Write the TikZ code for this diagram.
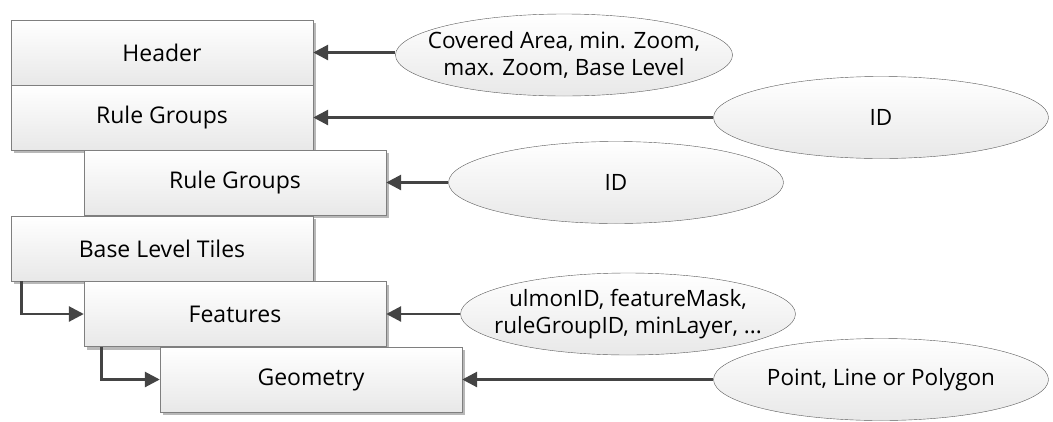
\documentclass[tikz,border=0pt]{standalone}
\usepackage{fontspec}
\setmainfont{Open Sans}
\usetikzlibrary{arrows.meta,positioning,shadows,shapes.geometric}
\definecolor{linkgray}{HTML}{444444}
\definecolor{boxedge}{HTML}{7F7F7F}
\definecolor{boxfoot}{HTML}{E8E8E8}
\definecolor{ovaledge}{HTML}{5A5A5A}

\begin{document}
\begin{tikzpicture}[x=1pt,y=-1pt,
  block/.style={draw=boxedge, top color=white, bottom color=boxfoot,
    minimum width=302pt, minimum height=65pt, inner sep=0pt,
    drop shadow={shadow xshift=3pt,shadow yshift=-3pt,fill=black!35,opacity=0.8},
    font=\fontsize{23}{28}\selectfont},
  attr/.style={ellipse, draw=ovaledge, top color=white, bottom color=boxfoot,
    minimum width=335pt, minimum height=82pt, inner xsep=-17pt, inner ysep=0pt,
    align=center, font=\fontsize{22.5}{27}\selectfont},
  link/.style={linkgray, line width=2.8pt, -{Triangle[length=15pt,width=15pt]}}]
  \useasboundingbox (0,0) rectangle (1053,421);

  % record blocks
  \node[block] (hdr)  at (162,52.5)  {Header};
  \node[block] (rg)   at (162,117.5) {Rule Groups};
  \node[block] (rgs)  at (235,182.5) {Rule Groups};
  \node[block] (tile) at (162,248.5) {Base Level Tiles};
  \node[block] (feat) at (235,314)   {Features};
  \node[block] (geom) at (311,379.5) {Geometry};

  % contents
  \node[attr] (hdrinfo)  at (564,55)    {Covered Area, min. Zoom,\\max. Zoom, Base Level};
  \node[attr] (rgid)     at (881,117.5) {ID};
  \node[attr] (rgsid)    at (616,182.5) {ID};
  \node[attr] (featinfo) at (628,314)   {ulmonID, featureMask,\\ruleGroupID, minLayer, ...};
  \node[attr] (geominfo) at (881,379.5) {Point, Line or Polygon};

  \draw[link] (hdrinfo.west |- hdr.east) -- (hdr.east);
  \draw[link] (rgid) -- (rg);
  \draw[link] (rgsid) -- (rgs);
  \draw[link] (featinfo) -- (feat);
  \draw[link] (geominfo) -- (geom);

  % nesting
  \draw[link] ([xshift=11pt]tile.south west) |- (feat.west);
  \draw[link] ([xshift=18pt]feat.south west) |- (geom.west);
\end{tikzpicture}
\end{document}
